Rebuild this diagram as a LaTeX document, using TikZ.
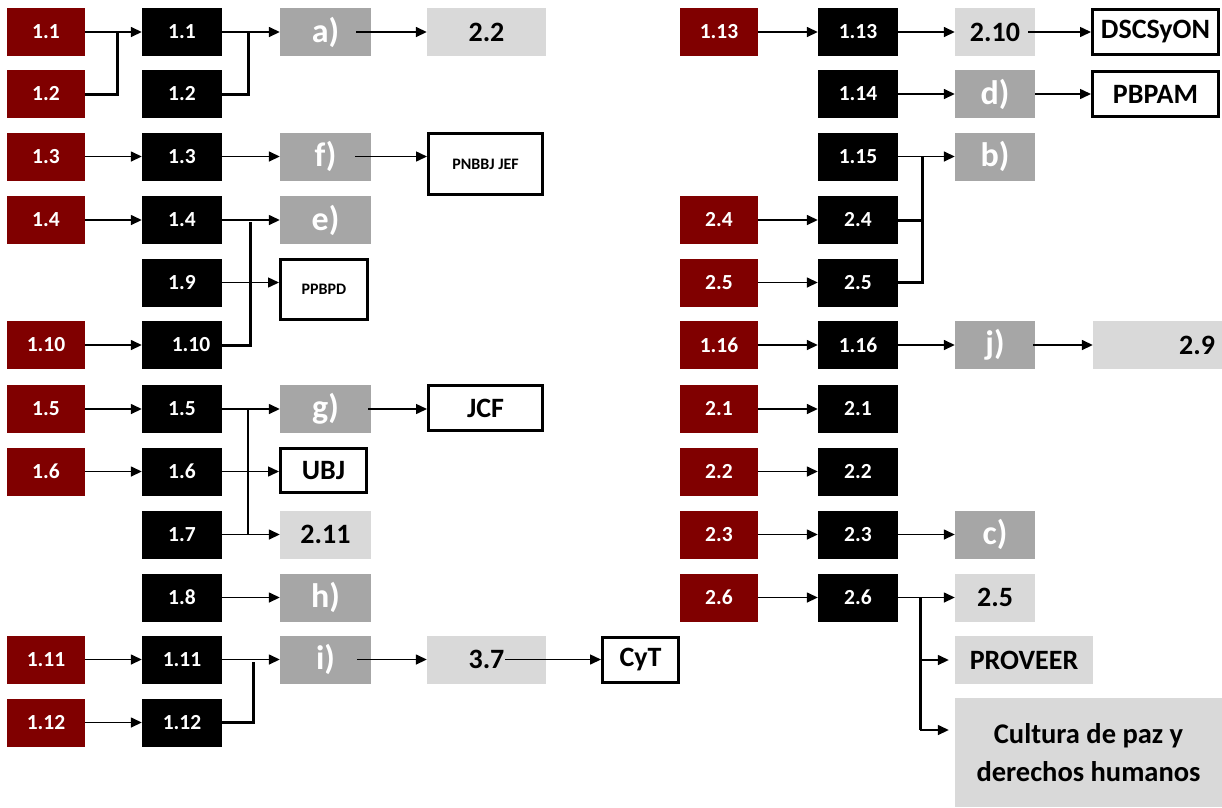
\documentclass[tikz,border=0pt]{standalone}
\usepackage{fontspec}
\setmainfont{Carlito}
\usetikzlibrary{arrows.meta,calc}
\definecolor{myred}{HTML}{800000}
\definecolor{mygray}{HTML}{A6A6A6}
\definecolor{mylight}{HTML}{D9D9D9}
\begin{document}
\begin{tikzpicture}[x=1pt,y=-1pt,
 box/.style={rectangle,inner sep=0pt,minimum height=48pt,font=\bfseries\fontsize{21.5}{24}\selectfont},
 redbox/.style={box,fill=myred,text=white,minimum width=78pt},
 blkbox/.style={box,fill=black,text=white,minimum width=80pt},
 graybox/.style={box,fill=mygray,text=white,minimum width=91pt,font=\bfseries\fontsize{34}{38}\selectfont},
 lightbox/.style={box,fill=mylight,text=black,minimum width=119pt,font=\bfseries\fontsize{28}{32}\selectfont},
 wbox/.style={box,draw=black,line width=3pt,fill=white,text=black,font=\bfseries\fontsize{28}{32}\selectfont},
 smallw/.style={wbox,font=\bfseries\fontsize{16}{19}\selectfont},
 arr/.style={line width=1.5pt,-{Triangle[length=11pt,width=10pt]}},
 ln/.style={line width=1.8pt},
 thk/.style={line width=3pt},
]
\useasboundingbox (0,0) rectangle (1222,807);
% ---------- left side ----------
\node[redbox] (r1) at (46,32) {1.1};
\node[blkbox] (b1) at (182,32) {1.1};
\node[graybox] (ga) at (325.5,32) {a)};
\node[lightbox] (l22) at (486.5,32) {2.2};
\node[redbox] (r2) at (46,94) {1.2};
\node[blkbox] (b2) at (182,94) {1.2};
\node[redbox] (r3) at (46,156.5) {1.3};
\node[blkbox] (b3) at (182,156.5) {1.3};
\node[graybox] (gf) at (325.5,156.5) {f)};
\node[smallw,minimum width=114pt,minimum height=61pt] (pnbbj) at (485.5,164) {PNBBJ JEF};
\node[redbox] (r4) at (46,220) {1.4};
\node[blkbox] (b4) at (182,220) {1.4};
\node[graybox] (ge) at (325.5,220) {e)};
\node[blkbox] (b9) at (182,282.5) {1.9};
\node[smallw,minimum width=87pt,minimum height=60pt] (ppbpd) at (324,289.5) {PPBPD};
\node[redbox] (r10) at (46,345) {1.10};
\node[blkbox] (b10) at (182,345) {\hspace*{18pt}1.10};
\node[redbox] (r5) at (46,409) {1.5};
\node[blkbox] (b5) at (182,409) {1.5};
\node[graybox] (gg) at (325.5,409) {g)};
\node[wbox,minimum width=114pt,minimum height=45pt] (jcf) at (485.5,408) {JCF};
\node[redbox] (r6) at (46,471.5) {1.6};
\node[blkbox] (b6) at (182,471.5) {1.6};
\node[wbox,minimum width=86pt,minimum height=44pt] (ubj) at (323.5,470.5) {UBJ};
\node[blkbox] (b7) at (182,534.5) {1.7};
\node[lightbox,minimum width=91pt] (l211) at (325.5,534.5) {2.11};
\node[blkbox] (b8) at (182,597.5) {1.8};
\node[graybox] (gh) at (325.5,597.5) {h)};
\node[redbox] (r11) at (46,659.5) {1.11};
\node[blkbox] (b11) at (182,659.5) {1.11};
\node[graybox] (gi) at (325.5,659.5) {i)};
\node[lightbox] (l37) at (486.5,659.5) {3.7};
\node[wbox,minimum width=76pt,minimum height=45pt] (cyt) at (640.5,659.5) {CyT};
\node[redbox] (r12) at (46,722.5) {1.12};
\node[blkbox] (b12) at (182,722.5) {1.12};
% ---------- right side ----------
\node[redbox] (R13) at (719,32) {1.13};
\node[blkbox] (B13) at (858,32) {1.13};
\node[lightbox,minimum width=80pt] (l210) at (995,32) {2.10};
\node[wbox,minimum width=126pt,minimum height=45pt] (dsc) at (1155.5,32) {DSCSyON};
\node[blkbox] (B14) at (858,94) {1.14};
\node[graybox,minimum width=80pt] (gd) at (995,94) {d)};
\node[wbox,minimum width=126pt,minimum height=45pt] (pbpam) at (1155.5,94) {PBPAM};
\node[blkbox] (B15) at (858,156.5) {1.15};
\node[graybox,minimum width=80pt] (gb) at (995,156.5) {b)};
\node[redbox] (R24) at (719,220) {2.4};
\node[blkbox] (B24) at (858,220) {2.4};
\node[redbox] (R25) at (719,282.5) {2.5};
\node[blkbox] (B25) at (858,282.5) {2.5};
\node[redbox] (R116) at (719,345) {1.16};
\node[blkbox] (B116) at (858,345) {1.16};
\node[graybox,minimum width=80pt] (gj) at (995,345) {j)};
\node[lightbox,minimum width=129pt,text width=115pt,align=right] (l29) at (1157.5,345) {2.9};
\node[redbox] (R21) at (719,409) {2.1};
\node[blkbox] (B21) at (858,409) {2.1};
\node[redbox] (R22) at (719,471.5) {2.2};
\node[blkbox] (B22) at (858,471.5) {2.2};
\node[redbox] (R23) at (719,534.5) {2.3};
\node[blkbox] (B23) at (858,534.5) {2.3};
\node[graybox,minimum width=80pt] (gc) at (995,534.5) {c)};
\node[redbox] (R26) at (719,597.5) {2.6};
\node[blkbox] (B26) at (858,597.5) {2.6};
\node[lightbox,minimum width=80pt] (l25) at (995,597.5) {2.5};
\node[lightbox,minimum width=138pt] (prov) at (1024,660) {PROVEER};
\node[lightbox,minimum width=267pt,minimum height=109pt,align=center,font=\bfseries\fontsize{28.5}{38}\selectfont] (cult) at (1088.5,752.5) {Cultura de paz y\\derechos humanos};
% ---------- connectors left ----------
\draw[arr] (r1) -- (b1);
\coordinate (j1) at (117,32);
\draw[thk] (r2.east) -| (j1);
\draw[arr] (b1) -- (ga);
\coordinate (j2) at (248,32);
\draw[thk] (b2.east) -| (j2);
\draw[arr] ([xshift=-15pt]ga.east) -- (l22.west);
\draw[arr] (r3) -- (b3);
\draw[arr] (b3) -- (gf);
\draw[arr] ([xshift=-16pt]gf.east) -- (pnbbj.west |- gf.east);
\draw[arr] (r4) -- (b4);
\draw[arr] (b4) -- (ge);
\coordinate (j4) at (250,222);
\draw[thk] (b10.east) -| (j4);
\draw[arr] (b9.east) -- (ppbpd.west |- b9.east);
\draw[arr] (r10) -- (b10);
\draw[arr] (r5) -- (b5);
\draw[arr] (b5) -- (gg);
\coordinate (v5) at (248,409);
\coordinate (v7) at (248,534.5);
\draw[ln] (v5) -- (v7);
\draw[arr] ([xshift=-3pt]gg.east) -- (jcf.west |- gg.east);
\draw[arr] (r6) -- (b6);
\draw[arr] (b6.east) -- (ubj.west |- b6.east);
\draw[arr] (b7) -- (l211);
\draw[arr] (b8) -- (gh);
\draw[arr] (r11) -- (b11);
\draw[arr] (b11) -- (gi);
\coordinate (j11) at (253,662);
\draw[thk] (b12.east) -| (j11);
\draw[arr] ([xshift=-14pt]gi.east) -- (l37.west);
\draw[arr] ([xshift=-41pt]l37.east) -- (cyt.west);
\draw[arr] (r12) -- (b12);
% ---------- connectors right ----------
\draw[arr] (R13) -- (B13);
\draw[arr] (B13) -- (l210);
\draw[arr] ([xshift=-7pt]l210.east) -- (dsc.west);
\draw[arr] (B14) -- (gd);
\draw[arr] (gd) -- (pbpam);
\draw[arr] (B15) -- (gb);
\coordinate (k15) at (922,156.5);
\draw[thk] (B25.east) -| (k15);
\draw[thk] (B24.east) -- (B24.east -| k15);
\draw[arr] (R24) -- (B24);
\draw[arr] (R25) -- (B25);
\draw[arr] (R116) -- (B116);
\draw[arr] (B116) -- (gj);
\draw[arr] ([xshift=-2pt]gj.east) -- (l29.west);
\draw[arr] (R21) -- (B21);
\draw[arr] (R22) -- (B22);
\draw[arr] (R23) -- (B23);
\draw[arr] (B23) -- (gc);
\draw[arr] (R26) -- (B26);
\draw[arr] (B26) -- (l25);
\coordinate (k26) at (920,597.5);
\coordinate (k27) at (920,730);
\draw[thk] (k26) -- (k27);
\draw[arr] (k26 |- prov) -- ([xshift=-6pt]prov.west);
\draw[arr] (k27) -- ([xshift=-6pt]cult.west |- k27);
\end{tikzpicture}
\end{document}
